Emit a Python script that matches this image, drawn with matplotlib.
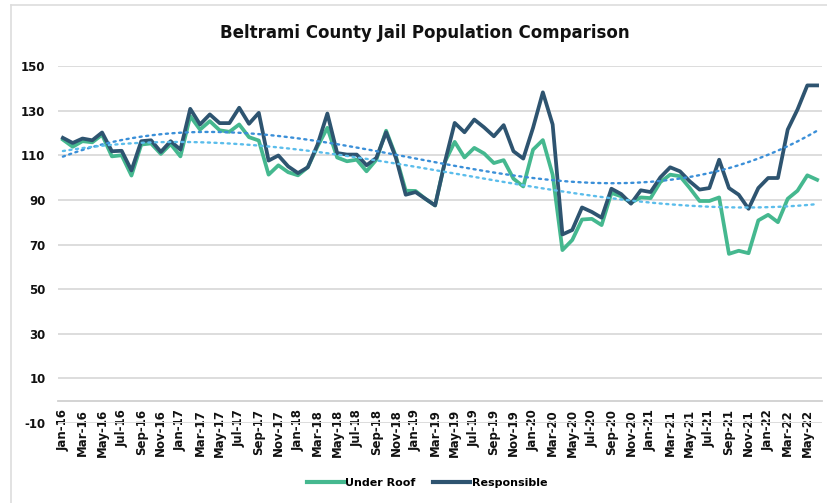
import numpy as np
import matplotlib
matplotlib.use("Agg")
import matplotlib.pyplot as plt
from matplotlib.lines import Line2D

plt.rcParams["axes.unicode_minus"] = False

month_abbr = ["Jan", "Feb", "Mar", "Apr", "May", "Jun", "Jul", "Aug", "Sep", "Oct", "Nov", "Dec"]
years = ["16", "17", "18", "19", "20", "21", "22"]
months = [f"{m}-{y}" for y in years for m in month_abbr][:78]  # Jan-16 .. Jun-22

responsible = [
    117.8, 115.5, 117.5, 116.7, 120.2, 111.8, 112.0, 103.2, 116.3, 116.7, 111.5, 116.3,
    112.5, 130.8, 123.8, 128.3, 124.4, 124.4, 131.3, 124.1, 129.0, 107.6, 109.9, 105.0,
    102.0, 104.6, 114.8, 128.7, 111.0, 110.3, 110.3, 105.5, 108.8, 120.3, 108.8, 92.3,
    93.5, 90.5, 87.5, 107.0, 124.5, 120.3, 126.0, 122.5, 118.5, 123.5, 111.8, 108.5,
    122.3, 138.2, 123.8, 74.5, 76.5, 86.6, 84.6, 82.0, 95.0, 92.6, 88.3, 94.3,
    93.5, 100.1, 104.6, 102.8, 98.3, 94.6, 95.3, 108.0, 95.3, 92.3, 86.0, 95.3,
    99.8, 99.8, 121.5, 130.5, 141.3, 141.3,
]
under_roof = [
    117.0, 113.8, 116.3, 115.8, 119.2, 109.5, 110.0, 100.9, 114.8, 115.3, 110.6, 115.0,
    109.5, 127.5, 121.5, 125.3, 121.2, 120.5, 123.8, 118.1, 116.6, 101.3, 105.5, 102.4,
    101.0, 104.6, 114.0, 122.3, 109.0, 107.3, 108.0, 102.8, 108.0, 121.0, 109.5, 94.1,
    94.0, 90.5, 87.5, 107.0, 116.0, 109.0, 113.3, 110.8, 106.5, 107.8, 99.5, 96.0,
    112.5, 116.8, 101.3, 67.5, 72.0, 81.2, 81.5, 78.7, 93.1, 91.6, 88.7, 91.1,
    90.8, 98.0, 101.3, 100.6, 95.3, 89.5, 89.5, 91.1, 65.8, 67.2, 66.1, 80.8,
    83.3, 80.0, 90.5, 94.1, 101.0, 99.0,
]
y_ticks = list(range(-10, 151, 20))

GREEN = "#45B88F"
DARK = "#2E5470"
TREND_R = "#3A8FD8"
TREND_U = "#5BBDEB"
GRID = "#DDDDDD"

W, H = 827, 503
fig = plt.figure(figsize=(W / 100, H / 100), dpi=100)
ax = fig.add_axes([58 / W, 1 - 423 / H, (822 - 58) / W, (423 - 66) / H])

x = np.arange(len(months))
ax.plot(x, under_roof, color=GREEN, lw=2.7, solid_joinstyle="round", zorder=3)
ax.plot(x, responsible, color=DARK, lw=2.7, solid_joinstyle="round", zorder=4)

# polynomial trendlines (order 3), as in the spreadsheet chart
for series, col in ((responsible, TREND_R), (under_roof, TREND_U)):
    coef = np.polyfit(x, series, 3)
    ax.plot(x, np.polyval(coef, x), color=col, lw=1.7, linestyle=(0, (0.9, 1.9)),
            dash_capstyle="round", zorder=5)

ax.set_xlim(-0.5, len(months) - 0.5)
ax.set_ylim(-10, 150)
ax.set_yticks(y_ticks)
ax.yaxis.grid(True, color=GRID, lw=1.4)
ax.set_axisbelow(True)

for s in ("left", "top", "right"):
    ax.spines[s].set_visible(False)
ax.spines["bottom"].set_position(("data", 0))
ax.spines["bottom"].set_color("#D0D0D0")
ax.spines["bottom"].set_linewidth(1.3)

ax.set_xticks(x[::2])
ax.set_xticklabels(months[::2], rotation=90, fontsize=8.5, fontweight="bold", color="#111111")
ax.tick_params(axis="x", length=0, pad=6)
ax.tick_params(axis="y", length=0, pad=9, labelsize=8.5, labelcolor="#111111")
for lbl in ax.get_yticklabels():
    lbl.set_fontweight("bold")

fig.text(425 / W, 1 - 33 / H, "Beltrami County Jail Population Comparison",
         ha="center", va="center", fontsize=12, fontweight="bold", color="#111111")

handles = [Line2D([], [], color=GREEN, lw=3), Line2D([], [], color=DARK, lw=3)]
leg = fig.legend(handles, ["Under Roof", "Responsible"], loc="center",
                 bbox_to_anchor=(427 / W, 1 - 483 / H), ncol=2, frameon=False,
                 handlelength=3.3, handletextpad=0.15, columnspacing=1.6,
                 prop={"weight": "bold", "size": 8})

# outer chart frame (top and left edges visible)
fig.add_artist(Line2D([11 / W, 1], [1 - 5 / H, 1 - 5 / H], transform=fig.transFigure,
                      color=GRID, lw=1.2))
fig.add_artist(Line2D([11 / W, 11 / W], [0, 1 - 5 / H], transform=fig.transFigure,
                      color=GRID, lw=1.2))

fig.savefig("out.png", dpi=100)
